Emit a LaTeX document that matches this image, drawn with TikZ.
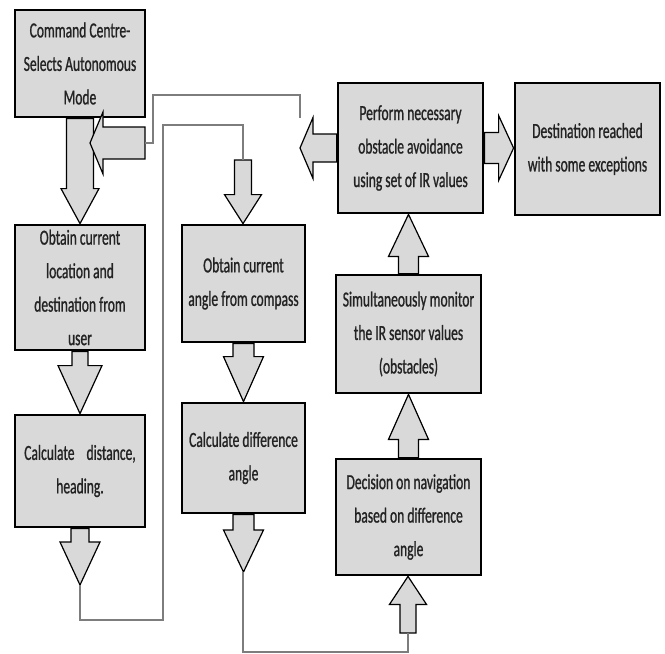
\documentclass[tikz,border=0pt]{standalone}
\usepackage{fontspec}
\setmainfont[FakeStretch=0.63, FakeBold=0.9]{Carlito}
\usetikzlibrary{calc}
\definecolor{boxgray}{RGB}{217,217,217}
\definecolor{wiregray}{RGB}{125,125,125}
\definecolor{inkgray}{RGB}{35,35,35}
\tikzset{
  box/.style={draw=black, line width=2.8pt, fill=boxgray, inner sep=0pt,
    align=center, text=inkgray, font=\fontsize{21.5}{33.5}\selectfont},
  fat/.style={draw=black, line width=1.2pt, fill=boxgray, line join=miter},
  wire/.style={draw=wiregray, line width=1.5pt},
}
% block arrows: from, to, shaft half, head half, head length
\newcommand{\vfat}[5]{%
  \draw[fat] let \p1=#1, \p2=#2, \n1={#5*sign(\y1-\y2)} in
    (\x1-#3pt,\y1) -- (\x1-#3pt,\y2+\n1) -- (\x1-#4pt,\y2+\n1)
    -- (\x1,\y2) -- (\x1+#4pt,\y2+\n1) -- (\x1+#3pt,\y2+\n1)
    -- (\x1+#3pt,\y1) -- cycle;}
\newcommand{\hfat}[5]{%
  \draw[fat] let \p1=#1, \p2=#2, \n1={#5*sign(\x1-\x2)} in
    (\x1,\y1-#3pt) -- (\x2+\n1,\y1-#3pt) -- (\x2+\n1,\y1-#4pt)
    -- (\x2,\y1) -- (\x2+\n1,\y1+#4pt) -- (\x2+\n1,\y1+#3pt)
    -- (\x1,\y1+#3pt) -- cycle;}
\begin{document}
\begin{tikzpicture}[x=1pt, y=-1pt]
  \useasboundingbox (0,0) rectangle (665,654);
  \node[box, minimum width=130pt, minimum height=107pt] (cmd) at (80,63.5) {Command Centre-\\Selects Autonomous\\Mode};
  \node[box, minimum width=130pt, minimum height=125pt] (loc) at (80,287.5) {Obtain current\\location and\\destination from\\user};
  \node[box, minimum width=130pt, minimum height=112pt] (dist) at (80,471) {Calculate\hspace{12pt}distance,\\heading.};
  \node[box, minimum width=123pt, minimum height=117pt] (ang) at (243.5,283.5) {Obtain current\\angle from compass};
  \node[box, minimum width=123pt, minimum height=110pt] (diff) at (243.5,458) {Calculate difference\\angle};
  \node[box, minimum width=145pt, minimum height=130pt] (obs) at (410.5,148) {Perform necessary\\obstacle avoidance\\using set of IR values};
  \node[box, minimum width=145pt, minimum height=132pt] (dest) at (587.5,149) {Destination reached\\with some exceptions};
  \node[box, minimum width=145pt, minimum height=118pt] (mon) at (408.5,334) {Simultaneously monitor\\the IR sensor values\\(obstacles)};
  \node[box, minimum width=145pt, minimum height=116pt] (nav) at (408.5,517) {Decision on navigation\\based on difference\\angle};
  \coordinate (aE) at (145,143);
  \coordinate (aT) at (90,143);
  \coordinate (dT) at (80,585);
  \coordinate (oT) at (243,160);
  \coordinate (cT) at (243,572);
  \coordinate (nB) at (408,633);
  \coordinate (oL) at (300,148);
  \coordinate (oK) at (300,118);
  \vfat{(cmd.south)}{(loc.north)}{13.5}{19}{35}
  \hfat{(aE)}{(aT)}{16}{31}{13}
  \vfat{(loc.south)}{(dist.north)}{8}{22}{48}
  \vfat{(dist.south)}{(dT)}{9}{20}{43}
  \vfat{(oT)}{(ang.north)}{8.5}{18.5}{29}
  \vfat{(ang.south)}{(diff.north)}{10.5}{20}{45}
  \vfat{(diff.south)}{(cT)}{10.5}{20}{42}
  \vfat{(nB)}{(nav.south)}{8}{18.5}{28}
  \vfat{(nav.north)}{(mon.south)}{10}{20}{45}
  \vfat{(mon.north)}{(obs.south)}{10}{20}{42}
  \hfat{(obs.west)}{(oL)}{14}{30.5}{13}
  \hfat{(obs.east)}{(dest.west)}{15.5}{32.5}{15}
  \draw[wire] (dT) |- (163,620) |- (243,125) -- (oT);
  \draw[wire] (cT) |- (408,652) -- (nB);
  \draw[wire] (aE) -- (153,143) |- (300,95) -- (oK);
\end{tikzpicture}
\end{document}
